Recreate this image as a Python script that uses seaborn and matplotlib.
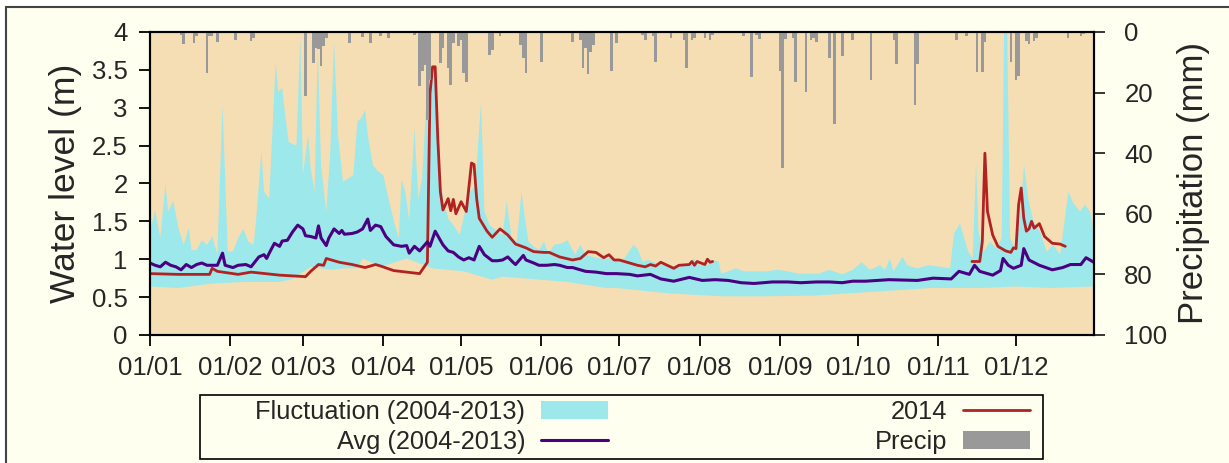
import matplotlib
matplotlib.use("Agg")
import matplotlib.pyplot as plt
from matplotlib.lines import Line2D
from matplotlib.patches import Patch, Rectangle
import numpy as np
import seaborn as sns

# x values are day of year, 0 = 1 January
band_top_days = [0, 2, 4, 6, 7, 9, 11, 13, 15, 16, 18, 20, 22, 24, 26, 28, 30, 32, 34, 36, 38, 40,
                 41, 43, 44, 46, 48.5, 49.5, 51, 52, 53.5, 54.5, 56.5, 58, 59, 61, 62, 63.5, 64.7, 66,
                 68, 69.5, 71, 72.5, 74.5, 76.5, 78.5, 80, 81.5, 83, 84, 86, 88, 90, 92, 94.5, 96,
                 97, 98.5, 100, 102, 103.5, 105, 106.7, 108.6, 110.3, 111.6, 113, 115, 117, 119.5,
                 121.5, 123.5, 125.5, 127.7, 129, 131, 134, 136, 137.6, 139.5, 141.5, 143.3, 144.6,
                 146, 148, 150, 152, 153.6, 156, 159, 161, 164, 166, 168, 171, 174, 177, 181, 183,
                 186.4, 188, 190, 192, 196, 200, 204, 207.7, 209.6, 212, 215, 217.3, 219.3, 220.3,
                 223, 226, 229, 233, 238, 242, 246, 250, 254, 258, 262, 267, 271, 274.5, 277.7,
                 281.6, 283.5, 285.4, 286.7, 290.3, 292, 296, 300, 305, 308.6, 310.1, 312.4, 315.6,
                 317.3, 318.6, 319.5, 321.4, 324, 326.5, 328.5, 329.4, 330.6, 331.7, 333.6, 335.5,
                 337.1, 338.7, 340.7, 343.3, 345.8, 348.4, 351, 354.2, 356.1, 358.7, 360.6, 362.5,
                 364]
band_top = [1.36, 1.65, 1.28, 2.0, 1.63, 1.77, 1.41, 1.19, 1.41, 1.12, 1.12, 1.25, 1.19, 1.30,
            1.06, 3.04, 1.10, 1.10, 1.28, 1.40, 1.23, 1.19, 1.54, 2.43, 1.89, 1.80, 3.59, 3.21,
            3.26, 2.95, 2.55, 2.53, 2.50, 3.94, 2.11, 2.64, 2.20, 1.89, 3.78, 2.24, 1.63, 2.38,
            3.87, 2.64, 2.02, 2.07, 2.11, 2.82, 2.86, 2.97, 2.64, 2.24, 2.16, 2.11, 1.80, 1.45,
            1.28, 2.05, 1.89, 1.50, 2.73, 1.80, 2.07, 3.17, 3.39, 3.43, 2.33, 1.80, 1.54, 1.45,
            1.32, 1.63, 1.89, 1.98, 3.08, 1.63, 1.45, 1.37, 1.32, 1.76, 1.28, 1.23, 1.89, 1.54,
            1.23, 1.17, 1.12, 1.23, 1.08, 1.19, 1.21, 1.25, 1.06, 1.19, 1.06, 1.03, 1.01, 1.01,
            0.99, 1.01, 1.19, 1.14, 0.97, 0.99, 0.94, 0.90, 0.92, 0.92, 1.01, 0.92, 0.92, 0.99,
            0.97, 0.81, 0.84, 0.88, 0.84, 0.84, 0.84, 0.86, 0.84, 0.81, 0.81, 0.81, 0.86, 0.80,
            0.86, 0.96, 0.86, 0.92, 0.86, 1.01, 0.84, 1.03, 0.92, 0.88, 0.92, 0.90, 0.88, 1.34,
            1.47, 1.10, 1.01, 2.27, 1.36, 1.10, 1.23, 1.14, 1.28, 4.0, 4.0, 1.28, 1.14, 1.54,
            2.24, 1.80, 1.50, 1.36, 1.10, 1.19, 1.06, 1.89, 1.74, 1.63, 1.72, 1.63, 1.36]

band_bottom_days = [0, 11, 24, 37, 50, 55, 58, 62, 70, 75, 80, 82, 86, 89, 99, 109, 121, 132, 136,
                    147, 161, 176, 180, 200, 221, 237, 256, 270, 301, 321, 334, 347, 364]
band_bottom = [0.64, 0.62, 0.68, 0.70, 0.70, 0.74, 0.81, 0.90, 0.86, 0.88, 0.88, 1.01, 0.95, 0.90,
               1.01, 0.88, 0.84, 0.73, 0.77, 0.74, 0.70, 0.62, 0.62, 0.55, 0.51, 0.51, 0.52, 0.55,
               0.62, 0.62, 0.64, 0.62, 0.64]

avg_days = [0, 2, 4, 6, 8, 10, 12, 14, 16, 18, 20, 22, 24, 26, 28, 29, 32, 34, 37, 39, 42, 44, 45,
            46, 48, 50, 51, 53, 55, 57, 59, 60, 62, 64, 65, 66, 68, 69, 71, 73, 74, 75, 78, 80, 82,
            84, 85, 87, 89, 91, 94, 97, 99, 100, 102, 104, 107, 108, 110, 111, 113, 115, 117, 119,
            121, 123, 125, 127, 129, 132, 134, 136, 138, 140, 141, 144, 145, 148, 150, 153, 156,
            158, 161, 163, 166, 168, 172, 176, 180, 185, 188, 193, 197, 202, 208, 213, 218, 223,
            228, 233, 240, 246, 251, 257, 262, 267, 271, 276, 285, 296, 302, 309, 312, 316, 318,
            320, 325, 328, 329, 331, 333, 336, 337, 339, 343, 348, 352, 355, 359, 361, 364]
avg_level = [0.95, 0.92, 0.90, 0.96, 0.92, 0.90, 0.86, 0.93, 0.89, 0.93, 0.95, 0.92, 0.92, 0.92,
             1.08, 0.92, 0.89, 0.92, 0.93, 0.90, 1.03, 1.06, 1.01, 1.08, 1.21, 1.17, 1.24, 1.25,
             1.36, 1.45, 1.40, 1.31, 1.30, 1.28, 1.44, 1.28, 1.18, 1.28, 1.40, 1.34, 1.38, 1.33,
             1.34, 1.36, 1.40, 1.53, 1.38, 1.45, 1.43, 1.30, 1.19, 1.17, 1.18, 1.08, 1.17, 1.11,
             1.23, 1.17, 1.37, 1.31, 1.19, 1.11, 1.09, 1.03, 0.99, 1.02, 0.99, 1.17, 1.06, 0.98,
             0.98, 0.99, 1.03, 0.96, 0.93, 1.05, 0.99, 0.95, 0.92, 0.92, 0.93, 0.92, 0.89, 0.89,
             0.86, 0.84, 0.83, 0.81, 0.81, 0.80, 0.78, 0.80, 0.74, 0.71, 0.76, 0.72, 0.73, 0.72,
             0.69, 0.68, 0.70, 0.70, 0.69, 0.70, 0.70, 0.69, 0.71, 0.71, 0.73, 0.72, 0.75, 0.74,
             0.84, 0.80, 0.92, 0.84, 0.79, 0.85, 1.01, 0.92, 0.88, 0.92, 1.14, 0.99, 0.92, 0.86,
             0.89, 0.93, 0.93, 1.02, 0.96]

# 2014 record has a gap from August to mid November
y2014_early_days = [0, 11, 23, 24, 26, 34, 39, 50, 60, 62, 65, 67, 68, 73, 78, 83, 87, 89, 94, 99,
                    104, 107, 108, 109, 110, 111, 112, 113, 115, 116, 117, 118, 120, 122, 124, 125,
                    126, 127, 130, 132, 135, 138, 141, 145, 148, 152, 154, 158, 163, 166, 169, 172,
                    175, 177, 179, 181, 184, 188, 191, 193, 195, 197, 202, 204, 208, 209, 210, 211,
                    214, 215, 216, 217]
y2014_early = [0.81, 0.80, 0.80, 0.88, 0.84, 0.80, 0.83, 0.79, 0.77, 0.84, 0.93, 0.92, 1.01, 0.96,
               0.93, 0.89, 0.93, 0.91, 0.85, 0.83, 0.81, 0.96, 3.19, 3.54, 3.54, 2.6, 1.89, 1.65,
               1.80, 1.64, 1.79, 1.60, 1.76, 1.63, 2.27, 2.25, 1.80, 1.54, 1.37, 1.29, 1.40, 1.32,
               1.20, 1.15, 1.10, 1.09, 1.09, 1.03, 0.99, 1.01, 1.10, 1.09, 1.02, 1.06, 0.99, 0.99,
               0.96, 0.92, 0.90, 0.93, 0.91, 0.96, 0.88, 0.92, 0.93, 0.97, 0.92, 0.97, 0.93, 1.00,
               0.96, 0.97]
y2014_late_days = [317, 320, 321, 322, 323, 325, 327, 330, 332, 333, 334, 335, 336, 337, 338, 339,
                   340, 341, 343, 345, 348, 351, 353]
y2014_late = [0.97, 0.97, 1.23, 2.40, 1.63, 1.32, 1.17, 1.11, 1.09, 1.15, 1.14, 1.72, 1.94, 1.54,
              1.37, 1.40, 1.50, 1.41, 1.47, 1.30, 1.21, 1.20, 1.17]

precip_days = [12, 13, 17, 18, 22, 23, 24, 26, 33, 39, 40, 60, 63, 64, 65, 66, 67, 68, 77, 82, 85,
               89, 92, 102, 104, 105, 106, 107, 108, 112, 113, 115, 116, 117, 119, 120, 121, 122,
               127, 131, 132, 135, 143, 144, 145, 151, 163, 166, 167, 168, 169, 170, 171, 178, 180,
               190, 191, 194, 195, 197, 201, 206, 207, 209, 210, 214, 216, 217, 229, 232, 234, 235,
               243, 244, 245, 248, 249, 253, 255, 256, 257, 262, 264, 267, 271, 278, 287, 288, 295,
               296, 311, 315, 319, 321, 322, 332, 334, 335, 338, 339, 341, 342, 354, 359, 360]
precip_mm = [1.0, 4.1, 3.8, 1.3, 13.6, 1.5, 1.5, 3.3, 2.5, 3.0, 2.0, 21.3, 10.3, 5.4, 5.7, 11.4,
             4.8, 2.0, 3.8, 1.8, 3.8, 1.2, 2.0, 1.0, 18.0, 13.0, 11.0, 29.0, 15.8, 10.4, 5.4, 12.0,
             17.5, 3.7, 4.8, 2.6, 13.6, 16.6, 0.4, 7.6, 6.0, 1.2, 4.3, 8.7, 13.6, 9.8, 3.4, 2.6,
             12.0, 5.4, 14.0, 6.5, 4.3, 13.0, 3.7, 1.0, 2.6, 1.5, 10.0, 0.4, 1.9, 2.6, 12.0, 2.6,
             2.1, 1.9, 2.6, 1.0, 1.2, 14.8, 1.0, 2.3, 12.9, 45.0, 2.3, 1.9, 16.4, 19.7, 2.6, 1.9,
             3.4, 8.7, 30.5, 7.8, 2.6, 15.8, 2.6, 10.7, 24.0, 10.7, 2.6, 1.2, 13.1, 13.1, 3.4, 9.8,
             15.8, 14.4, 2.9, 4.0, 2.9, 1.9, 1.9, 1.2, 0.8]

month_starts = [0, 31, 59, 90, 120, 151, 181, 212, 243, 273, 304, 334]
month_labels = ["01/01", "01/02", "01/03", "01/04", "01/05", "01/06",
                "01/07", "01/08", "01/09", "01/10", "01/11", "01/12"]

BAND = "#9de8eb"
AVG = "#4b0082"
RED = "#b22222"
RAIN = "#999999"
WHEAT = "#f5deb3"
IVORY = "#fffff0"

W, H = 1229, 463

sns.set_style("ticks")
plt.rcParams["font.family"] = ["Liberation Sans", "DejaVu Sans"]

fig, ax = plt.subplots(figsize=(W / 100, H / 100), dpi=100)
fig.patch.set_facecolor("white")
# outer frame of the picture
fig.patches.append(Rectangle((6 / W, -0.1), 1.2, 1.1 - 7 / H, transform=fig.transFigure,
                             facecolor=IVORY, edgecolor="#444444", lw=1.5, zorder=-10))
fig.subplots_adjust(left=0.122, right=0.890, top=0.931, bottom=0.2765)

ax.set_facecolor(WHEAT)
band_x = np.concatenate([band_top_days, band_bottom_days[::-1]])
band_y = np.concatenate([band_top, band_bottom[::-1]])
ax.fill(band_x, band_y, color=BAND, lw=0, zorder=1)

sns.lineplot(x=y2014_early_days, y=y2014_early, ax=ax, color=RED, lw=2.0,
             estimator=None, sort=False, zorder=2)
sns.lineplot(x=y2014_late_days, y=y2014_late, ax=ax, color=RED, lw=2.0,
             estimator=None, sort=False, zorder=2)
sns.lineplot(x=avg_days, y=avg_level, ax=ax, color=AVG, lw=2.2,
             estimator=None, sort=False, zorder=3)

ax.set_xlim(0, 364)
ax.set_ylim(0, 4)
ax.set_xticks(month_starts)
ax.set_xticklabels(month_labels)
ax.set_yticks(np.arange(0, 4.01, 0.5))
ax.set_yticklabels([f"{v:g}" for v in np.arange(0, 4.01, 0.5)])
ax.set_ylabel("Water level (m)", fontsize=25.5, labelpad=7)
ax.set_xlabel("")
ax.tick_params(axis="both", direction="out", length=8, width=1.3, labelsize=18.5, color="black")
ax.tick_params(axis="y", pad=8)
ax.tick_params(axis="x", pad=7)

ax2 = ax.twinx()
ax2.bar(precip_days, precip_mm, width=1.0, color=RAIN, lw=0, align="center")
ax2.set_ylim(100, 0)
ax2.set_yticks([0, 20, 40, 60, 80, 100])
ax2.set_ylabel("Precipitation (mm)", fontsize=25, labelpad=7)
ax2.tick_params(axis="y", direction="out", length=8, width=1.3, labelsize=18.5, pad=14)

for a in (ax, ax2):
    for s in a.spines.values():
        s.set_visible(True)
        s.set_color("black")
        s.set_linewidth(1.5)

# legend: one box, two right-aligned columns
fig.patches.append(Rectangle((200 / W, 1 - 459 / H), 843 / W, 64.5 / H,
                             transform=fig.transFigure, facecolor=IVORY,
                             edgecolor="black", lw=1.2, zorder=-5))
leg_kw = dict(loc="upper right", bbox_transform=fig.transFigure, markerfirst=False,
              fontsize=18.3, frameon=False, handlelength=2.65, handleheight=0.7,
              handletextpad=0.6, borderpad=0, labelspacing=0.24, borderaxespad=0)
fig.legend([Patch(facecolor=BAND, edgecolor="none"), Line2D([], [], color=AVG, lw=2.2)],
           ["Fluctuation (2004-2013)", "Avg (2004-2013)"],
           bbox_to_anchor=(608 / W, 1 - 400 / H), **leg_kw)
fig.legend([Line2D([], [], color=RED, lw=2.0), Patch(facecolor=RAIN, edgecolor="none")],
           ["2014", "Precip"],
           bbox_to_anchor=(1030 / W, 1 - 400 / H), **leg_kw)

fig.savefig("out.png", dpi=100, facecolor=fig.get_facecolor())
